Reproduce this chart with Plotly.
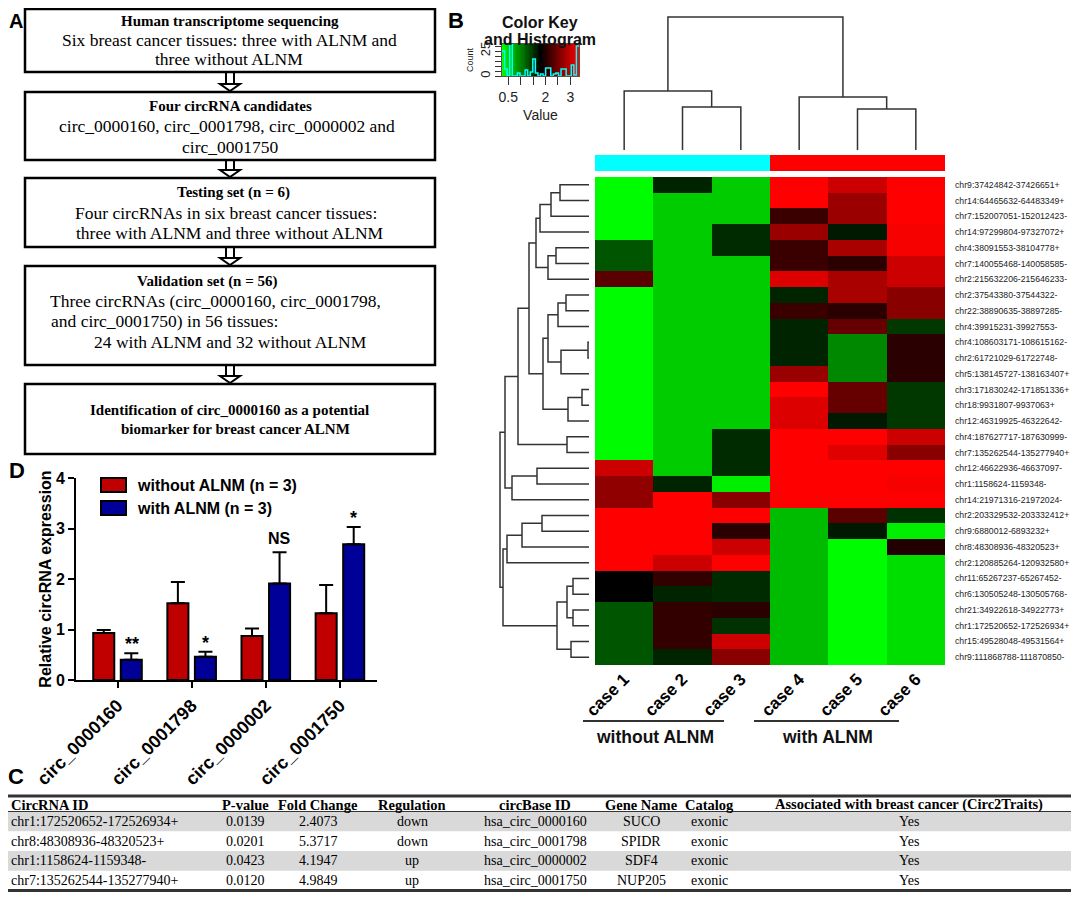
import numpy as np
import plotly.graph_objects as go

W, H = 1079, 901
OFF = 8  # the page body keeps an 8 px margin round the plot
FW, FH = W - OFF, H - OFF

# ---------------- panel B: heatmap ----------------
cases = ['case 1', 'case 2', 'case 3', 'case 4', 'case 5', 'case 6']
case_group = [0, 0, 0, 1, 1, 1]  # 0 = without ALNM, 1 = with ALNM

circ_ids = [
    'chr9:37424842-37426651+', 'chr14:64465632-64483349+', 'chr7:152007051-152012423-',
    'chr14:97299804-97327072+', 'chr4:38091553-38104778+', 'chr7:140055468-140058585-',
    'chr2:215632206-215646233-', 'chr2:37543380-37544322-', 'chr22:38890635-38897285-',
    'chr4:39915231-39927553-', 'chr4:108603171-108615162-', 'chr2:61721029-61722748-',
    'chr5:138145727-138163407+', 'chr3:171830242-171851336+', 'chr18:9931807-9937063+',
    'chr12:46319925-46322642-', 'chr4:187627717-187630999-', 'chr7:135262544-135277940+',
    'chr12:46622936-46637097-', 'chr1:1158624-1159348-', 'chr14:21971316-21972024-',
    'chr2:203329532-203332412+', 'chr9:6880012-6893232+', 'chr8:48308936-48320523+',
    'chr2:120885264-120932580+', 'chr11:65267237-65267452-', 'chr6:130505248-130505768-',
    'chr21:34922618-34922773+', 'chr1:172520652-172526934+', 'chr15:49528048-49531564+',
    'chr9:111868788-111870850-',
]

# values (rows top -> bottom, columns case 1 -> case 6)
expr = [
    [0.27, 1.59, 0.56, 3.35, 3.04, 3.35],
    [0.27, 0.56, 0.56, 3.35, 2.74, 3.35],
    [0.27, 0.56, 0.56, 2.15, 2.74, 3.35],
    [0.27, 0.56, 1.54, 2.74, 1.65, 3.30],
    [1.28, 0.56, 1.54, 2.15, 2.83, 3.30],
    [1.28, 0.56, 0.56, 2.15, 2.06, 3.04],
    [2.35, 0.56, 0.56, 3.14, 2.83, 3.04],
    [0.27, 0.56, 0.56, 1.59, 2.83, 2.63],
    [0.27, 0.56, 0.56, 2.15, 2.06, 2.63],
    [0.27, 0.56, 0.56, 1.59, 2.42, 1.46],
    [0.27, 0.56, 0.56, 1.59, 0.97, 2.06],
    [0.27, 0.56, 0.56, 1.59, 0.97, 2.06],
    [0.27, 0.56, 0.56, 2.74, 0.97, 2.06],
    [0.27, 0.56, 0.56, 3.35, 2.42, 1.46],
    [0.27, 0.56, 0.56, 3.14, 2.42, 1.46],
    [0.27, 0.56, 0.56, 3.14, 1.65, 1.46],
    [0.27, 0.56, 1.54, 3.35, 3.35, 3.04],
    [0.27, 0.56, 1.54, 3.35, 3.16, 2.63],
    [3.04, 0.56, 1.54, 3.35, 3.35, 3.35],
    [2.68, 1.59, 0.35, 3.35, 3.35, 3.30],
    [2.68, 3.35, 2.63, 3.35, 3.35, 3.35],
    [3.35, 3.35, 3.35, 0.66, 2.35, 1.50],
    [3.35, 3.35, 2.06, 0.66, 1.65, 0.35],
    [3.35, 3.35, 3.04, 0.66, 0.27, 2.01],
    [3.35, 3.04, 3.35, 0.66, 0.27, 0.45],
    [1.80, 2.11, 1.54, 0.66, 0.27, 0.45],
    [1.80, 1.59, 1.54, 0.66, 0.27, 0.45],
    [1.28, 2.11, 2.06, 0.66, 0.27, 0.45],
    [1.28, 2.11, 1.50, 0.66, 0.27, 0.45],
    [1.28, 2.11, 3.04, 0.66, 0.27, 0.45],
    [1.28, 1.59, 2.63, 0.66, 0.27, 0.45],
]
key_min, key_max = 0.25, 3.35

# linkage style merges: (left id, right id, height); ids >= n are earlier merges
row_merges = [
    (0, 1, 29), (31, 2, 38), (32, 3, 49), (4, 5, 33), (34, 6, 41), (33, 35, 53),
    (7, 8, 23), (37, 9, 31), (10, 11, 1), (39, 12, 28), (38, 40, 41), (13, 14, 7),
    (42, 15, 21), (41, 43, 46), (36, 44, 60), (16, 17, 22), (45, 46, 71),
    (18, 19, 52), (48, 20, 77), (21, 22, 47), (50, 23, 67), (25, 26, 16),
    (27, 28, 16), (52, 53, 22), (29, 30, 18), (54, 55, 32), (47, 49, 84),
    (51, 24, 82), (58, 56, 86), (57, 59, 89),
]
col_merges = [(1, 2, 43), (0, 6, 59), (4, 5, 41), (3, 8, 53), (7, 9, 133)]

# ---------------- panel D: qPCR bars ----------------
genes = ['circ_0000160', 'circ_0001798', 'circ_0000002', 'circ_0001750']
without_mean = [0.93, 1.52, 0.87, 1.32]
without_err = [0.06, 0.42, 0.15, 0.56]
with_mean = [0.40, 0.46, 1.91, 2.69]
with_err = [0.13, 0.10, 0.62, 0.34]
sig = ['**', '*', 'NS', '*']

# ---------------- panel C: table ----------------
tbl_header = ['CircRNA ID', 'P-value', 'Fold Change', 'Regulation', 'circBase ID',
              'Gene Name', 'Catalog', 'Associated with breast cancer (Circ2Traits)']
tbl_circ = ['chr1:172520652-172526934+', 'chr8:48308936-48320523+',
            'chr1:1158624-1159348-', 'chr7:135262544-135277940+']
tbl_pval = ['0.0139', '0.0201', '0.0423', '0.0120']
tbl_fold = ['2.4073', '5.3717', '4.1947', '4.9849']
tbl_reg = ['down', 'down', 'up', 'up']
tbl_circbase = ['hsa_circ_0000160', 'hsa_circ_0001798', 'hsa_circ_0000002', 'hsa_circ_0001750']
tbl_gene = ['SUCO', 'SPIDR', 'SDF4', 'NUP205']
tbl_catalog = ['exonic', 'exonic', 'exonic', 'exonic']
tbl_assoc = ['Yes', 'Yes', 'Yes', 'Yes']
tbl_col_x = [9, 245, 318, 412, 535, 641, 709, 909]   # first column is left aligned, the rest centred
tbl_shaded = [True, False, True, False]

# ---------------- panel A: flow chart ----------------
flow_boxes = [(9, 72), (92, 160), (178, 247), (266, 365), (384, 454)]
flow_lines = [
    ('<b>Human transcriptome sequencing</b>', 230, 21, 'center'),
    ('Six breast cancer tissues: three with ALNM and', 229, 40, 'center'),
    ('three without ALNM', 229, 59, 'center'),
    ('<b>Four circRNA candidates</b>', 230, 106, 'center'),
    ('circ_0000160, circ_0001798, circ_0000002 and', 227, 126, 'center'),
    ('circ_0001750', 230, 147, 'center'),
    ('<b>Testing set (n = 6)</b>', 233, 193, 'center'),
    ('Four circRNAs in six breast cancer tissues:', 226, 213, 'center'),
    ('three with ALNM and three without ALNM', 230, 233, 'center'),
    ('<b>Validation set (n = 56)</b>', 207, 281, 'center'),
    ('Three circRNAs (circ_0000160, circ_0001798,', 48, 301, 'left'),
    ('and circ_0001750) in 56 tissues:', 49, 321, 'left'),
    ('24 with ALNM and 32 without ALNM', 230, 342, 'center'),
    ('<b>Identification of circ_0000160 as a potential</b>', 229, 410, 'center'),
    ('<b>biomarker for breast cancer ALNM</b>', 235, 429, 'center'),
]


def px(x):
    return (x - OFF) / FW


def py(y):
    return 1 - (y - OFF) / FH


def dendro_segments(merges, n):
    pos = {i: float(i) for i in range(n)}
    hgt = {i: 0.0 for i in range(n)}
    leaf, height = [], []
    for k, (a, b, h) in enumerate(merges):
        leaf += [pos[a], pos[a], pos[b], pos[b], None]
        height += [hgt[a], h, h, hgt[b], None]
        pos[n + k] = (pos[a] + pos[b]) / 2
        hgt[n + k] = h
    return leaf, height


SANS = 'Liberation Sans, Arial'
SERIF = 'Liberation Serif, Times New Roman'
greenred = [[0, '#00FF00'], [0.5, '#000000'], [1, '#FF0000']]

fig = go.Figure()

# heatmap body and side colour strip
fig.add_trace(go.Heatmap(z=expr, x=list(range(6)), y=list(range(len(circ_ids))),
                         colorscale=greenred, zmin=key_min, zmax=key_max,
                         showscale=False, xaxis='x', yaxis='y', hoverinfo='skip'))
fig.add_trace(go.Heatmap(z=[case_group], x=list(range(6)), y=[0],
                         colorscale=[[0, '#00FFFF'], [1, '#FF0000']], zmin=0, zmax=1,
                         showscale=False, xaxis='x', yaxis='y2', hoverinfo='skip'))

# dendrograms
r_leaf, r_h = dendro_segments(row_merges, len(circ_ids))
fig.add_trace(go.Scatter(x=r_h, y=r_leaf, mode='lines', line=dict(color='#333333', width=1.5),
                         xaxis='x3', yaxis='y3', hoverinfo='skip'))
c_leaf, c_h = dendro_segments(col_merges, len(cases))
fig.add_trace(go.Scatter(x=c_leaf, y=c_h, mode='lines', line=dict(color='#333333', width=1.5),
                         xaxis='x4', yaxis='y4', hoverinfo='skip'))

# colour key with histogram
flat = np.array(expr).ravel()
counts, edges = np.histogram(flat, bins=30, range=(key_min, key_max))
key_x = np.linspace(key_min, key_max, 61)
key_z = [list((key_x[:-1] + key_x[1:]) / 2)]
fig.add_trace(go.Heatmap(z=key_z, x=key_x, y=[0, 32], colorscale=greenred,
                         zmin=key_min, zmax=key_max, showscale=False,
                         xaxis='x5', yaxis='y5', hoverinfo='skip'))
fig.add_trace(go.Scatter(x=edges, y=list(counts) + [counts[-1]], mode='lines',
                         line=dict(color='#00FFFF', width=1.5, shape='hv'),
                         xaxis='x5', yaxis='y5', hoverinfo='skip'))

# bar chart
fig.add_trace(go.Bar(x=genes, y=without_mean, name='without ALNM (n = 3)',
                     marker=dict(color='#C00000', line=dict(color='black', width=2)),
                     error_y=dict(type='data', array=without_err, arrayminus=[0] * 4,
                                  symmetric=False, color='black', thickness=2, width=7),
                     xaxis='x6', yaxis='y6'))
fig.add_trace(go.Bar(x=genes, y=with_mean, name='with ALNM (n = 3)',
                     marker=dict(color='#000099', line=dict(color='black', width=2)),
                     error_y=dict(type='data', array=with_err, arrayminus=[0] * 4,
                                  symmetric=False, color='black', thickness=2, width=7),
                     xaxis='x6', yaxis='y6'))

hidden = dict(visible=False, showgrid=False, zeroline=False, automargin=False)

fig.update_layout(
    width=FW, height=FH, margin=dict(l=0, r=0, t=0, b=0, autoexpand=False),
    paper_bgcolor='white', plot_bgcolor='white', showlegend=False, hovermode=False,
    barmode='group', bargap=0.257, bargroupgap=0.236,
    font=dict(family=SANS, color='black'),
    xaxis=dict(domain=[px(595), px(945)], range=[-0.5, 5.5], anchor='y', automargin=False,
               tickvals=list(range(6)), ticktext=cases, tickangle=-45, ticks='',
               tickfont=dict(family=SANS, size=17, weight='bold', color='black'),
               showgrid=False, zeroline=False, showline=False),
    yaxis=dict(domain=[py(665), py(177)], range=[len(circ_ids) - 0.5, -0.5], anchor='x',
               side='right', tickvals=list(range(len(circ_ids))), ticktext=circ_ids,
               ticks='', ticklabelstandoff=9, automargin=False,
               tickfont=dict(family=SANS, size=8.7, color='#222222'),
               showgrid=False, zeroline=False, showline=False),
    yaxis2=dict(domain=[py(171), py(155)], range=[-0.5, 0.5], anchor='x', **hidden),
    xaxis3=dict(domain=[px(497), px(589)], range=[92, 0], anchor='y3', **hidden),
    yaxis3=dict(domain=[py(665), py(177)], range=[len(circ_ids) - 0.5, -0.5], anchor='x3', **hidden),
    xaxis4=dict(domain=[px(595), px(945)], range=[-0.5, 5.5], anchor='y4', **hidden),
    yaxis4=dict(domain=[py(150), py(14)], range=[0, 136], anchor='x4', **hidden),
    xaxis5=dict(domain=[px(502), px(579)], range=[key_min, key_max], anchor='y5', automargin=False,
                tickvals=[0.5, 1, 1.5, 2, 2.5, 3], ticktext=['0.5', '', '', '2', '', '3'],
                ticks='outside', ticklen=8, tickcolor='#333333',
                tickfont=dict(family=SANS, size=14, color='#222222'),
                title=dict(text='Value', font=dict(family=SANS, size=14, color='#222222'), standoff=6),
                showline=True, mirror=True, linecolor='#555555', linewidth=1,
                showgrid=False, zeroline=False),
    yaxis5=dict(domain=[py(76), py(44)], range=[0, 32], anchor='x5', automargin=False,
                tickvals=[0, 5, 10, 15, 20, 25, 30], ticktext=['0', '', '', '', '', '25', ''],
                ticks='outside', ticklen=6, tickcolor='#333333', tickangle=-90,
                tickfont=dict(family=SANS, size=13, color='#222222'),
                title=dict(text='Count', font=dict(family=SANS, size=9, color='#222222'), standoff=2),
                showline=True, mirror=True, linecolor='#555555', linewidth=1,
                showgrid=False, zeroline=False),
    xaxis6=dict(domain=[px(76), px(377)], range=[-0.56, 3.5], anchor='y6', type='category',
                automargin=False, showline=True, linecolor='black', linewidth=2,
                ticks='outside', ticklen=6, tickwidth=2, tickcolor='black', tickangle=-45,
                tickfont=dict(family=SANS, size=18, weight='bold', color='black'),
                showgrid=False, zeroline=False),
    yaxis6=dict(domain=[py(680), py(478)], range=[0, 4], anchor='x6', dtick=1, automargin=False,
                showline=True, linecolor='black', linewidth=2,
                ticks='outside', ticklen=6, tickwidth=2, tickcolor='black',
                tickfont=dict(family=SANS, size=16, weight='bold', color='black'),
                title=dict(text='Relative circRNA expression', standoff=0,
                           font=dict(family=SANS, size=16, weight='bold', color='black')),
                showgrid=False, zeroline=False),
)

shapes = []
annotations = []


def note(text, x, y, size, family=SANS, anchor='center', color='black'):
    annotations.append(dict(text=text, x=px(x), y=py(y), xref='paper', yref='paper',
                            xanchor=anchor, yanchor='middle', showarrow=False,
                            font=dict(family=family, size=size, color=color)))


def hline(x0, x1, y, width, color='#333333'):
    shapes.append(dict(type='line', xref='paper', yref='paper', x0=px(x0), x1=px(x1),
                       y0=py(y), y1=py(y), line=dict(color=color, width=width)))


# flow chart boxes and arrows
for i, (top, bottom) in enumerate(flow_boxes):
    shapes.append(dict(type='rect', xref='paper', yref='paper', x0=px(25), x1=px(435),
                       y0=py(bottom), y1=py(top), line=dict(color='black', width=2.5)))
    if i < len(flow_boxes) - 1:
        y0, y1 = bottom, flow_boxes[i + 1][0]
        for sx in (226, 234):
            shapes.append(dict(type='line', xref='paper', yref='paper', x0=px(sx), x1=px(sx),
                               y0=py(y0), y1=py(y1 - 8), line=dict(color='black', width=2)))
        shapes.append(dict(type='path', xref='paper', yref='paper',
                           path='M %f,%f L %f,%f L %f,%f Z' % (px(220), py(y1 - 8), px(240), py(y1 - 8),
                                                              px(230), py(y1 - 1)),
                           fillcolor='white', line=dict(color='black', width=2)))
for text, x, y, anchor in flow_lines:
    note(text, x, y, 15 if text.startswith('<b>') else 17.5, family=SERIF, anchor=anchor)

# panel letters
for letter, x, y in [('A', 16, 21), ('B', 456, 21), ('D', 17, 470), ('C', 16, 776)]:
    note('<b>%s</b>' % letter, x, y, 20 if letter == 'A' else 22)

# colour key title
note('<b>Color Key</b>', 540, 22, 16, color='#111111')
note('<b>and Histogram</b>', 540, 39, 16, color='#111111')

# group brackets under the heatmap
for label, x0, x1 in [('without ALNM', 583, 724), ('with ALNM', 754, 899)]:
    hline(x0, x1, 721, 2)
    note('<b>%s</b>' % label, (x0 + x1) / 2 + 1, 737, 17.5, color='#111111')

# bar legend
for label, color, top in [('without ALNM (n = 3)', '#C00000', 478), ('with ALNM (n = 3)', '#000099', 501)]:
    shapes.append(dict(type='rect', xref='paper', yref='paper', x0=px(101), x1=px(126),
                       y0=py(top + 14), y1=py(top), fillcolor=color, line=dict(color='black', width=2)))
    note('<b>%s</b>' % label, 135, top + 7, 16, anchor='left')

# significance marks above the with-ALNM bars
for g, m, e, s in zip(genes, with_mean, with_err, sig):
    annotations.append(dict(text='<b>%s</b>' % s, x=g, y=m + e, xref='x6', yref='y6',
                            xshift=14, yshift=-3 if s != 'NS' else 3,
                            xanchor='center', yanchor='bottom', showarrow=False,
                            font=dict(family=SANS, size=18 if s != 'NS' else 16, color='black')))

# table: shaded rows, rules, header and cells
head_top, head_h, row_h = 796, 15.5, 19.75
tbl_columns = [tbl_circ, tbl_pval, tbl_fold, tbl_reg, tbl_circbase, tbl_gene, tbl_catalog, tbl_assoc]
for r, shaded in enumerate(tbl_shaded):
    if shaded:
        y_top = head_top + head_h + r * row_h
        shapes.append(dict(type='rect', xref='paper', yref='paper', x0=0, x1=1,
                           y0=py(y_top + row_h), y1=py(y_top), fillcolor='#d9d9d9',
                           line=dict(width=0), layer='below'))
for y, w in [(head_top, 3), (head_top + head_h, 1), (head_top + head_h + 4 * row_h, 3)]:
    hline(OFF, W, y, w)
for c, (hdr, col) in enumerate(zip(tbl_header, tbl_columns)):
    anchor = 'left' if c == 0 else 'center'
    note('<b>%s</b>' % hdr, tbl_col_x[c], head_top + head_h / 2 + 1, 14.5, family=SERIF, anchor=anchor)
    for r, val in enumerate(col):
        note(val, tbl_col_x[c], head_top + head_h + (r + 0.5) * row_h, 14, family=SERIF, anchor=anchor)

fig.update_layout(shapes=shapes, annotations=annotations)

fig.write_html("out.html")
